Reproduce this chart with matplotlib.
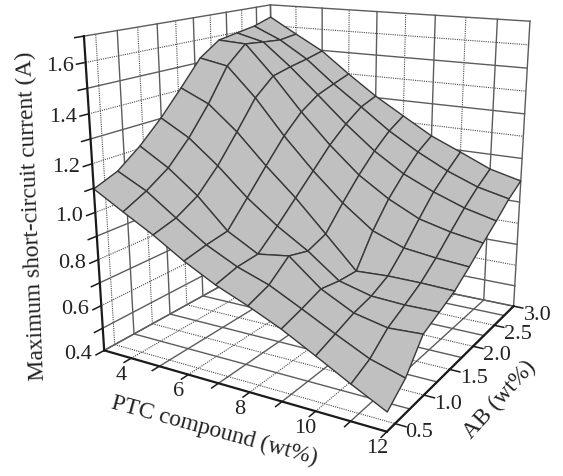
import numpy as np
import matplotlib
matplotlib.use("Agg")
import matplotlib.pyplot as plt
from mpl_toolkits.mplot3d import proj3d

plt.rcParams["font.family"] = ["Liberation Serif", "DejaVu Serif"]

ptc = [3, 4, 5, 6, 7, 8, 9, 10, 11, 12]
ab = [0.369, 0.661, 0.953, 1.246, 1.538, 1.831, 2.123, 2.415, 2.708, 3.0]

# one row per AB value, one column per PTC value
current = [
    [1.097, 1.025, 0.955, 0.875, 0.807, 0.753, 0.693, 0.621, 0.547, 0.477],
    [1.136, 1.073, 0.983, 0.896, 0.832, 0.786, 0.719, 0.650, 0.584, 0.544],
    [1.210, 1.135, 1.037, 0.911, 0.839, 0.858, 0.749, 0.680, 0.651, 0.659],
    [1.302, 1.232, 1.130, 1.013, 0.915, 0.833, 0.733, 0.698, 0.691, 0.693],
    [1.408, 1.352, 1.246, 1.116, 0.997, 0.863, 0.727, 0.734, 0.733, 0.728],
    [1.519, 1.495, 1.368, 1.216, 1.080, 0.959, 0.859, 0.809, 0.792, 0.781],
    [1.581, 1.574, 1.442, 1.295, 1.163, 1.047, 0.961, 0.895, 0.861, 0.838],
    [1.597, 1.565, 1.462, 1.347, 1.229, 1.123, 1.038, 0.977, 0.927, 0.893],
    [1.613, 1.557, 1.478, 1.374, 1.281, 1.185, 1.105, 1.037, 0.984, 0.952],
    [1.641, 1.568, 1.497, 1.399, 1.307, 1.228, 1.150, 1.092, 1.032, 0.997],
]

x_ticks = [3, 4, 5, 6, 7, 8, 9, 10, 11, 12]
x_labels = [4, 6, 8, 10, 12]
y_ticks = [0.5, 0.75, 1.0, 1.25, 1.5, 1.75, 2.0, 2.25, 2.5, 2.75, 3.0]
y_labels = [0.5, 1.0, 1.5, 2.0, 2.5, 3.0]
z_ticks = [0.4, 0.5, 0.6, 0.7, 0.8, 0.9, 1.0, 1.1, 1.2, 1.3, 1.4, 1.5, 1.6, 1.7]
z_labels = [0.4, 0.6, 0.8, 1.0, 1.2, 1.4, 1.6]

X0, X1 = 3, 12
Y0, Y1 = 0.3688, 3
Z0, Z1 = 0.4, 1.7

fig = plt.figure(figsize=(5.63, 4.77), dpi=100)
# small axes box: the box scale and the perspective are tied together in mplot3d
ax = fig.add_axes([223.65 / 563, 196.26 / 477, 186.31 / 563, 186.31 / 477], projection="3d")
ax.set_proj_type("persp", focal_length=1)
ax.view_init(elev=16.041, azim=-59.799)
ax.set_box_aspect((0.8489, 0.8449, 0.8449), zoom=2.8061)
ax.computed_zorder = False
ax.set_axis_off()


def grid_style(labelled):
    if labelled:
        return dict(color="#4a4a4a", lw=0.8, ls=(0, (1, 1)), zorder=1, clip_on=False)
    return dict(color="#5c5c5c", lw=1.0, ls="-", zorder=1, clip_on=False)


# back walls and floor
for v in x_ticks:
    st = grid_style(v in x_labels and v != 12)
    ax.plot([v, v], [Y1, Y1], [Z0, Z1], **st)
    ax.plot([v, v], [Y0, Y1], [Z0, Z0], **st)
for v in y_ticks:
    st = grid_style(v in y_labels and v != 3.0)
    ax.plot([X0, X0], [v, v], [Z0, Z1], **st)
    ax.plot([X0, X1], [v, v], [Z0, Z0], **st)
for v in z_ticks:
    st = grid_style(v in z_labels and v != 0.4)
    ax.plot([X0, X0], [Y0, Y1], [v, v], **st)
    ax.plot([X0, X1], [Y1, Y1], [v, v], **st)

xx, yy = np.meshgrid(ptc, ab)
ax.plot_surface(xx, yy, np.array(current), rstride=1, cstride=1, shade=False, clip_on=False,
                color="#c0c0c0", edgecolor="#383838", linewidth=1.0, zorder=2)

# the three drawn axes
axis_st = dict(color="#1a1a1a", lw=1.6, zorder=3, clip_on=False)
ax.plot([X0, X0], [Y0, Y0], [Z0, Z1], **axis_st)
ax.plot([X0, X1], [Y0, Y0], [Z0, Z0], **axis_st)
ax.plot([X1, X1], [Y0, Y1], [Z0, Z0], **axis_st)

tick_st = dict(color="#1a1a1a", lw=1.1, zorder=3, clip_on=False)
for v in x_ticks[1:]:
    ax.plot([v, v], [Y0, Y0 - 0.09], [Z0, Z0], **tick_st)
for v in y_labels:
    ax.plot([X1, X1 + 0.3], [v, v], [Z0, Z0], **tick_st)
for v in z_ticks:
    ax.plot([X0, X0], [Y0, Y0 - 0.1], [v, v], **tick_st)

ax.set_xlim(X0, X1)
ax.set_ylim(Y0, Y1)
ax.set_zlim(Z0, Z1)


def tick_label(x, y, z, text, dx, dy):
    px, py, _ = proj3d.proj_transform(x, y, z, ax.get_proj())
    ax.annotate(text, (px, py), xytext=(dx, dy), textcoords="offset pixels", annotation_clip=False,
                ha="center", va="center", fontsize=16, color="#222222")


for v in z_labels:
    tick_label(X0, Y0, v, f"{v:.1f}", -26, -3)
for v in x_labels:
    tick_label(v, Y0, Z0, str(v), -10, -16)
for v in y_labels:
    tick_label(X1, v, Z0, f"{v:.1f}", 24, -8)

title_st = dict(ha="center", va="center", rotation_mode="anchor", fontsize=16.9, color="#222222")
fig.text(32 / 563, 1 - 216 / 477, "Maximum short-circuit current (A)", rotation=92.3, **title_st)
fig.text(214 / 563, 1 - 431 / 477, "PTC compound (wt%)", rotation=-15.3, **title_st)
fig.text(500 / 563, 1 - 400 / 477, "AB (wt%)", rotation=48, **title_st)

fig.savefig("out.png", dpi=100)
